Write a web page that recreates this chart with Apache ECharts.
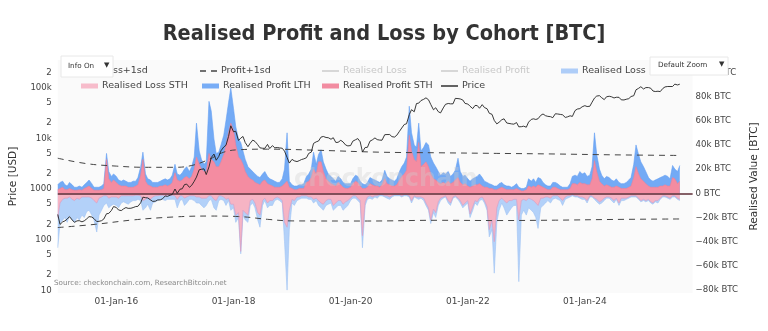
<!DOCTYPE html>
<html>
<head>
<meta charset="utf-8">
<script src="https://cdn.jsdelivr.net/npm/echarts@6/dist/echarts.min.js"></script>
<style>
html,body{margin:0;padding:0;background:#fff;}
#chart{width:768px;height:331px;}
</style>
</head>
<body>
<div id="chart"></div>
<script>
// ---------- DATA (semi-monthly: 1st and 15th of each month, Jan 2015 - Aug 2025) ----------
const dates = [];
for (let y = 2015; y <= 2025; y++) {
  for (let m = 1; m <= 12; m++) {
    if (y === 2025 && m > 8) break;
    const mm = String(m).padStart(2, '0');
    dates.push(y + '-' + mm + '-01');
    dates.push(y + '-' + mm + '-15');
  }
}

// Realised Profit STH [k BTC]
const sthProfit = [
  3,4, 5,3, 3,4, 3,2.5, 2.5,3, 2.5,4, 5,6, 4,2.5, 2.5,2.5, 3,4, 28,12, 9,11,
  9,7, 6,6, 6,5, 5,5, 6,7, 15,28, 10,7, 6,5, 5,5, 6,6, 7,6, 7,9,
  17,11, 10,11, 13,14, 12,14, 20,30, 24,20, 18,18, 33,28, 26,22, 22,26, 32,40, 50,58,
  52,40, 30,28, 24,18, 14,12, 11,9, 8,7, 10,11, 8,7, 6,5, 5,5, 6,8, 10,5,
  4,3, 3,4, 4,4, 9,10, 13,20, 16,26, 26,18, 12,10, 8,7, 6,9, 7,5, 4,4,
  5,8, 10,9, 6,4, 4,5, 8,7, 6,6, 5,7, 12,8, 7,6, 6,7, 11,14, 16,19,
  48,35, 28,26, 42,22, 24,26, 22,16, 12,11, 9,8, 9,8, 10,8, 9,11, 13,9, 7,8,
  6,5, 6,7, 7,8, 6,5, 5,4, 4,3, 3,4, 5,4, 3,3, 3,3, 4,3, 2,2,
  3,6, 5,6, 5,7, 6,5, 4,3, 3,5, 5,4, 3,3, 3,3, 4,8, 8,7, 9,8,
  8,7, 7,12, 27,18, 10,8, 6,7, 6,5, 5,6, 5,4, 4,4, 5,6, 13,22, 16,12,
  10,8, 6,5, 5,5, 5,6, 6,7, 6,6, 13,12, 8,10
];

// Realised Profit LTH [k BTC] (sits on top of STH)
const lthProfit = [
  4,5, 5,4, 3,5, 4,2.5, 2.5,3, 2.5,3, 4,5, 4,2.5, 2.5,2.5, 3,4, 5,6, 5,5,
  5,4, 4,5, 4,4, 4,5, 4,6, 7,6, 6,5, 5,4, 4,4, 4,5, 5,5, 5,6,
  7,5, 5,6, 7,8, 6,8, 10,28, 11,8, 6,8, 43,40, 19,11, 12,14, 16,20, 25,29,
  18,15, 15,14, 11,10, 8,8, 7,7, 6,6, 6,7, 6,5, 5,5, 4,4, 6,12, 40,5,
  3,3, 3,3, 3,4, 5,6, 7,14, 8,6, 10,8, 8,6, 6,5, 4,5, 5,4, 4,4,
  3,4, 5,5, 4,4, 3,4, 5,5, 5,4, 4,4, 7,6, 5,5, 4,5, 7,8, 9,11,
  24,15, 12,12, 16,13, 14,16, 18,14, 13,11, 9,7, 8,8, 8,6, 7,8, 16,9, 7,7,
  6,5, 6,6, 7,8, 7,5, 4,4, 3,3, 3,4, 4,3, 3,3, 2,3, 4,2, 2,2,
  2,6, 5,6, 4,6, 6,4, 3,3, 3,4, 4,4, 3,2, 2,2, 4,6, 7,7, 9,8,
  9,7, 8,10, 23,14, 10,7, 6,7, 7,6, 5,6, 4,4, 4,5, 6,7, 11,18, 16,14,
  12,10, 7,6, 5,6, 7,7, 8,8, 8,6, 10,8, 10,13
];

// Realised Loss (all holders) [k BTC]
const realisedLoss = [
  -45,-25, -22,-20, -24,-18, -22,-24, -20,-22, -18,-20, -15,-14, -18,-22, -32,-18, -14,-10, -8,-12, -10,-9,
  -10,-12, -8,-7, -8,-9, -7,-6, -6,-5, -6,-14, -12,-9, -14,-8, -7,-6, -5,-5, -6,-5, -5,-5,
  -5,-12, -6,-5, -10,-8, -5,-5, -6,-8, -8,-10, -12,-10, -6,-5, -12,-14, -6,-5, -6,-10, -6,-14,
  -12,-24, -20,-50, -18,-22, -24,-10, -8,-12, -22,-28, -10,-6, -12,-10, -10,-6, -5,-6, -8,-40, -80,-30,
  -8,-10, -6,-5, -4,-4, -4,-5, -5,-8, -6,-10, -12,-14, -10,-9, -8,-14, -12,-10, -10,-14, -12,-10,
  -6,-4, -4,-6, -8,-45, -10,-5, -4,-5, -3,-4, -2,-2, -3,-4, -5,-3, -2,-2, -2,-3, -2,-2,
  -3,-8, -3,-4, -5,-4, -6,-10, -14,-25, -16,-20, -10,-6, -4,-3, -8,-10, -4,-3, -5,-8, -12,-10,
  -8,-20, -14,-8, -10,-6, -5,-8, -14,-36, -30,-66, -24,-14, -8,-12, -18,-15, -12,-10, -10,-73, -18,-14,
  -18,-12, -14,-16, -20,-29, -12,-10, -8,-6, -8,-5, -4,-5, -6,-10, -5,-4, -3,-2, -3,-3, -4,-5,
  -5,-8, -3,-3, -5,-7, -9,-8, -6,-4, -4,-6, -8,-5, -10,-6, -6,-5, -4,-3, -3,-3, -5,-7,
  -6,-7, -6,-8, -9,-7, -8,-5, -3,-3, -4,-5, -3,-3, -5,-6
];

// Realised Loss STH [k BTC]
const sthLoss = [
  -20,-8, -5,-4, -4,-3, -5,-6, -4,-5, -3,-3, -3,-3, -4,-6, -8,-4, -3,-2, -2,-4, -3,-3,
  -3,-4, -2,-2, -2,-2, -2,-2, -1.5,-1.5, -2,-6, -5,-3, -5,-3, -2,-2, -1.5,-1.5, -2,-1.5, -1.5,-1.5,
  -2,-5, -2,-2, -4,-3, -2,-2, -2,-3, -3,-4, -4,-4, -2,-2, -5,-6, -2,-2, -3,-5, -4,-9,
  -9,-18, -16,-48, -14,-16, -18,-6, -5,-8, -16,-18, -6,-4, -8,-6, -6,-4, -3,-4, -6,-24, -28,-14,
  -5,-6, -3,-3, -2,-2, -2,-3, -3,-5, -4,-6, -8,-9, -6,-5, -5,-10, -8,-6, -6,-9, -7,-6,
  -4,-2, -2,-4, -6,-35, -7,-3, -2,-3, -2,-2, -1,-1, -2,-2, -3,-2, -1,-1, -1,-2, -1,-1,
  -2,-6, -2,-3, -3,-3, -4,-8, -12,-22, -13,-16, -7,-4, -3,-2, -6,-8, -3,-2, -4,-6, -10,-8,
  -6,-17, -11,-6, -7,-4, -3,-6, -11,-30, -22,-40, -12,-6, -4,-6, -8,-6, -6,-5, -5,-22, -6,-5,
  -6,-4, -5,-6, -8,-10, -4,-4, -3,-3, -4,-2, -2,-2, -4,-6, -3,-2, -2,-1, -2,-2, -3,-3,
  -4,-6, -2,-2, -4,-5, -7,-6, -4,-3, -3,-4, -6,-4, -8,-4, -4,-4, -3,-2, -2,-2, -4,-6,
  -5,-6, -5,-7, -8,-6, -6,-4, -2,-2, -3,-4, -2,-2, -4,-5
];

// Price [USD]
const priceUSD = [
  315,200, 225,235, 255,285, 245,220, 235,237, 225,235, 258,285, 280,260, 228,230, 237,255, 325,330, 375,450,
  432,385, 375,405, 430,415, 417,430, 450,455, 535,690, 675,665, 610,570, 575,608, 610,640, 730,715, 755,780,
  1000,820, 990,1010, 1220,1250, 1080,1180, 1420,1720, 2400,2450, 2500,1930, 2730,4180, 4900,3700, 4400,5700, 6750,7300, 10900,17700,
  13500,13800, 9100,10100, 10900,8250, 6850,8000, 9250,8700, 7500,6500, 6380,6350, 7600,6300, 7200,6500, 6600,6480, 6370,5600, 4200,3250,
  3850,3600, 3480,3630, 3820,3930, 4150,5050, 5350,7950, 8550,8850, 10600,10900, 10400,10300, 9600,10300, 8300,8350, 9150,8500, 7400,7100,
  7200,8800, 9400,9900, 8550,5400, 6600,6650, 8800,9300, 10200,9450, 9230,9200, 11800,11900, 11900,10800, 10600,11500, 13800,16000, 18800,19400,
  29400,36800, 33500,48700, 49600,55800, 59000,63100, 57800,46700, 36700,40200, 33600,31800, 39900,47000, 48800,48000, 48100,61500, 61000,60000, 57200,48900,
  47700,43100, 38700,44600, 44400,39300, 46300,40500, 38500,31300, 29800,22600, 19300,20800, 23300,24300, 20100,19700, 19300,19070, 20500,16900, 17000,17400,
  16600,20900, 23700,24300, 23600,24400, 28500,30300, 28000,27200, 26800,25600, 30600,30300, 29700,29200, 25900,26600, 27900,27100, 35400,37900, 38700,42000,
  44200,42500, 43000,51800, 62400,68400, 69700,63400, 58200,66200, 67800,66200, 62700,64800, 64600,57600, 57300,59100, 60800,67000, 69500,91000, 97200,104500,
  94400,100500, 100600,97500, 86000,84000, 85200,83700, 96500,103700, 105700,105500, 105700,117700, 113300,117400
];

// Profit +1sd / Loss +1sd bands [k BTC]
const profitSdDates = ['2015-01-01','2015-07-01','2016-01-01','2016-07-01','2017-01-01','2017-04-15','2017-08-01','2017-11-01','2018-02-01','2018-08-01','2019-07-01','2020-07-01','2021-07-01','2022-07-01','2023-07-01','2024-07-01','2025-08-15'];
const profitSd = [29,24.5,22.5,21.5,21.5,23,28,34,36,36.5,35.5,34,33.5,33,32.5,31.8,31.3];
const lossSdDates = ['2015-01-01','2015-08-25','2016-04-15','2017-01-01','2017-08-01','2018-02-01','2018-08-01','2019-01-01','2020-04-15','2021-07-01','2022-07-01','2023-07-01','2024-07-01','2025-08-15'];
const lossSd = [-28.3,-25.6,-22,-19.5,-18.8,-19.2,-21.5,-22.8,-22.9,-22.3,-22.5,-22.2,-21.6,-21.2];

// Tick labels
const dateTicks = ['2016-01-01','2018-01-01','2020-01-01','2022-01-01','2024-01-01'];
const priceTicks = [10,20,50,100,200,500,1000,2000,5000,10000,20000,50000,100000,200000];
const priceTickLabels = ['10','2','5','100','2','5','1000','2','5','10k','2','5','100k','2'];
const valueTicks = [-80,-60,-40,-20,0,20,40,60,80,100];

// ---------- CHART ----------
const FONT = "'DejaVu Sans', Verdana, sans-serif";
const t = s => Date.parse(s + 'T00:00:00Z');
const pair = (arr) => dates.map((d, i) => [t(d), arr[i]]);
const profitTop = dates.map((d, i) => [t(d), sthProfit[i] + lthProfit[i]]);

const chart = echarts.init(document.getElementById('chart'), null, {renderer: 'canvas'});

const ICON_LINE = 'path://M0,0h17v1.4h-17z';
const ICON_DASH = 'path://M0,0h6v1.4h-6z M11,0h6v1.4h-6z';
const legendItems = [
  {name: 'Loss+1sd', left: 81, top: 66, icon: ICON_DASH, h: 1.4},
  {name: 'Profit+1sd', left: 200, top: 66, icon: ICON_DASH, h: 1.4},
  {name: 'Realised Loss ', left: 322, top: 66, icon: ICON_LINE, h: 1.4},
  {name: 'Realised Profit', left: 441, top: 66, icon: ICON_LINE, h: 1.4},
  {name: 'Realised Loss', left: 561, top: 66, icon: 'rect', h: 5},
  {name: 'Realised Loss STH', left: 81, top: 81, icon: 'rect', h: 5},
  {name: 'Realised Profit LTH', left: 202, top: 81, icon: 'rect', h: 5},
  {name: 'Realised Profit STH', left: 322, top: 81, icon: 'rect', h: 5},
  {name: 'Price', left: 441, top: 81, icon: ICON_LINE, h: 1.4}
];
const legends = legendItems.map(it => {
  const lg = {
    data: [{name: it.name, icon: it.icon}],
    left: it.left, top: it.top, padding: 0,
    itemWidth: 17, itemHeight: it.h,
    textStyle: {fontSize: 9.5, color: '#444', fontFamily: FONT, padding: [0, 0, 0, -1]},
    inactiveColor: '#c8c8c8', inactiveBorderColor: '#c8c8c8',
    itemStyle: {borderWidth: 0},
    formatter: n => n.trim()
  };
  if (it.name === 'Realised Loss ' || it.name === 'Realised Profit') lg.selected = {[it.name]: false};
  return lg;
});

const SMALL = "7.2px 'DejaVu Sans', sans-serif";
const option = {
  backgroundColor: '#fff',
  animation: false,
  title: {
    text: 'Realised Profit and Loss by Cohort [BTC]',
    left: 'center', top: 18,
    textStyle: {fontFamily: "'DejaVu Sans Condensed', 'DejaVu Sans', sans-serif", fontWeight: 'bold', fontSize: 21.5, color: '#333'}
  },
  legend: legends,
  grid: {left: 51, right: 70, top: 60, bottom: 38, show: true, backgroundColor: '#fafafa', borderWidth: 0},
  xAxis: {
    type: 'value', min: t('2015-01-01'), max: t('2025-11-03'),
    axisLine: {show: false}, axisTick: {show: false}, splitLine: {show: false},
    axisLabel: {
      customValues: dateTicks.map(t), margin: 4,
      fontSize: 9, color: '#444', fontFamily: FONT,
      formatter: v => { const d = new Date(v); return '01-Jan-' + String(d.getUTCFullYear()).slice(2); }
    }
  },
  yAxis: [
    {
      type: 'value', min: 0.947, max: 5.547, position: 'left',
      name: 'Price [USD]', nameLocation: 'middle', nameGap: 31, nameRotate: 90,
      nameTextStyle: {fontSize: 10.5, color: '#333', fontFamily: FONT},
      axisLine: {show: false}, axisTick: {show: false}, splitLine: {show: false},
      axisLabel: {
        customValues: priceTicks.map(Math.log10), margin: 6,
        fontSize: 8.6, color: '#444', fontFamily: FONT,
        formatter: v => {
          let best = 0, bd = 1e9;
          priceTicks.forEach((p, i) => { const d = Math.abs(Math.log10(p) - v); if (d < bd) { bd = d; best = i; } });
          return priceTickLabels[best];
        }
      }
    },
    {
      type: 'value', min: -82.4, max: 110.2, position: 'right',
      name: 'Realised Value [BTC]', nameLocation: 'middle', nameGap: 52, nameRotate: 90,
      nameTextStyle: {fontSize: 10.5, color: '#333', fontFamily: FONT},
      axisLine: {show: false}, axisTick: {show: false}, splitLine: {show: false},
      axisLabel: {
        customValues: valueTicks, margin: 3,
        fontSize: 8.6, color: '#444', fontFamily: FONT,
        formatter: v => v === 0 ? '0 BTC' : (v < 0 ? '\u2212' + (-v) : v) + 'k BTC'
      }
    }
  ],
  series: [
    {
      name: 'Realised Loss', type: 'line', yAxisIndex: 1, z: 2,
      data: pair(realisedLoss), symbol: 'none',
      lineStyle: {color: '#9fc2f4', width: 0.6}, itemStyle: {color: '#aecdf8'},
      areaStyle: {color: '#b3d1f9', opacity: 1}
    },
    {
      name: 'Realised Loss STH', type: 'line', yAxisIndex: 1, z: 3,
      data: pair(sthLoss), symbol: 'none',
      lineStyle: {color: '#d7a0c6', width: 0.7}, itemStyle: {color: '#f7bccb'},
      areaStyle: {color: '#f6b4c4', opacity: 1}
    },
    {
      name: 'Realised Profit LTH', type: 'line', yAxisIndex: 1, z: 2,
      data: profitTop, symbol: 'none',
      lineStyle: {color: '#64a0f3', width: 0.6}, itemStyle: {color: '#78adf6'},
      areaStyle: {color: '#73aaf5', opacity: 1}
    },
    {
      name: 'Realised Profit STH', type: 'line', yAxisIndex: 1, z: 3,
      data: pair(sthProfit), symbol: 'none',
      lineStyle: {color: '#ee8199', width: 0.6}, itemStyle: {color: '#f28ca1'},
      areaStyle: {color: '#f48ca1', opacity: 1}
    },
    {
      name: 'Realised Loss ', type: 'line', yAxisIndex: 1,
      data: pair(realisedLoss), symbol: 'none',
      lineStyle: {color: '#f4c6d0', width: 1}, itemStyle: {color: '#f4c6d0'}
    },
    {
      name: 'Realised Profit', type: 'line', yAxisIndex: 1,
      data: profitTop, symbol: 'none',
      lineStyle: {color: '#bfeee0', width: 1}, itemStyle: {color: '#bfeee0'}
    },
    {
      name: 'Profit+1sd', type: 'line', yAxisIndex: 1, z: 5, smooth: 0.4,
      data: profitSdDates.map((d, i) => [t(d), profitSd[i]]), symbol: 'none',
      lineStyle: {color: '#444', width: 1, type: [6, 5]}, itemStyle: {color: '#444'},
      markLine: {
        silent: true, symbol: 'none', label: {show: false},
        lineStyle: {color: '#5e2c36', width: 1.6, type: 'solid'},
        data: [{yAxis: 0}]
      }
    },
    {
      name: 'Loss+1sd', type: 'line', yAxisIndex: 1, z: 5, smooth: 0.4,
      data: lossSdDates.map((d, i) => [t(d), lossSd[i]]), symbol: 'none',
      lineStyle: {color: '#444', width: 1, type: [6, 5]}, itemStyle: {color: '#444'}
    },
    {
      name: 'Price', type: 'line', yAxisIndex: 0, z: 6,
      data: dates.map((d, i) => [t(d), Math.log10(priceUSD[i])]), symbol: 'none',
      lineStyle: {color: '#222', width: 0.9}, itemStyle: {color: '#222'}
    }
  ],
  graphic: [
    {
      type: 'text', left: 294, top: 168, z: 10, silent: true,
      style: {text: 'checkonchain', font: "bold 24px 'DejaVu Sans', sans-serif", fill: 'rgba(205,205,205,0.35)'}
    },
    {
      type: 'text', left: 54, top: 280, z: 10, silent: true,
      style: {text: 'Source: checkonchain.com, ResearchBitcoin.net', font: SMALL, fill: '#888'}
    },
    {type: 'rect', z: 50, silent: true, shape: {x: 61, y: 56, width: 52, height: 21}, style: {fill: '#fff', stroke: '#e8e8e8', lineWidth: 1}},
    {type: 'text', z: 51, silent: true, x: 68, y: 66.5, style: {text: 'Info On', font: SMALL, fill: '#333', verticalAlign: 'middle'}},
    {type: 'text', z: 51, silent: true, x: 104, y: 65.5, style: {text: '\u25BC', font: "7px 'DejaVu Sans', sans-serif", fill: '#333', verticalAlign: 'middle'}},
    {type: 'rect', z: 50, silent: true, shape: {x: 650, y: 57, width: 78, height: 18}, style: {fill: '#fff', stroke: '#e8e8e8', lineWidth: 1}},
    {type: 'text', z: 51, silent: true, x: 658, y: 65.5, style: {text: 'Default Zoom', font: SMALL, fill: '#333', verticalAlign: 'middle'}},
    {type: 'text', z: 51, silent: true, x: 719, y: 64.5, style: {text: '\u25BC', font: "7px 'DejaVu Sans', sans-serif", fill: '#333', verticalAlign: 'middle'}}
  ]
};
chart.setOption(option);
</script>
</body>
</html>
